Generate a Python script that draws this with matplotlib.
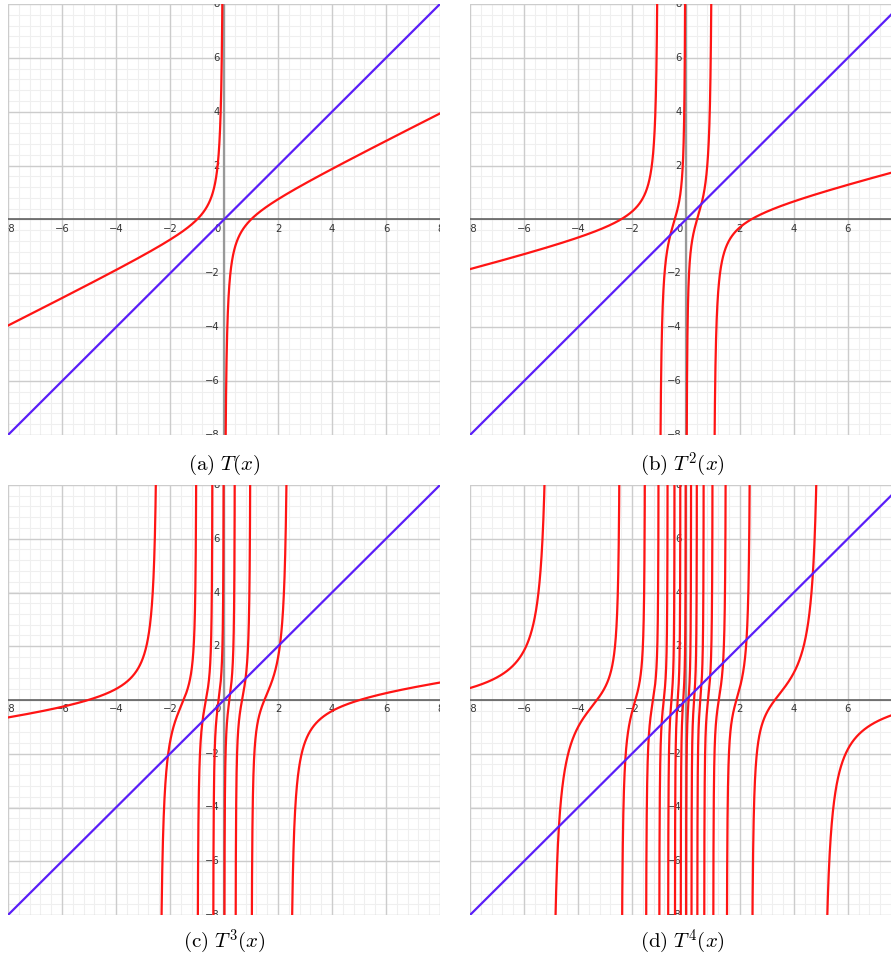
import numpy as np
import matplotlib
matplotlib.use("Agg")
import matplotlib.pyplot as plt

plt.rcParams['mathtext.fontset'] = 'cm'

# ---- data / chart definition ----
iterations = [1, 2, 3, 4]
captions = [r"$\mathrm{(a)}\ T(x)$", r"$\mathrm{(b)}\ T^2(x)$",
            r"$\mathrm{(c)}\ T^3(x)$", r"$\mathrm{(d)}\ T^4(x)$"]
x_limits = [(-8, 8), (-8, 7.6), (-8, 8), (-8, 7.6)]
y_limits = (-8, 8)
major_ticks = [-8, -6, -4, -2, 0, 2, 4, 6, 8]
minor_step = 0.4


def T(x):
    # Newton map for x^2 + 1 = 0
    with np.errstate(divide='ignore', invalid='ignore'):
        return (x * x - 1.0) / (2.0 * x)


def iterate(x, n):
    y = x.copy()
    for _ in range(n):
        y = T(y)
    return y


RED = '#ff1414'
BLUE = '#5a1ef8'

fig = plt.figure(figsize=(8.91, 9.63), dpi=100)
W, H = 891.0, 963.0
boxes = [(8, 4, 440, 435), (470, 4, 891, 435), (8, 485, 440, 915), (470, 485, 891, 915)]
cap_pos = [(224, 465), (682, 465), (224, 942), (682, 942)]

for k, n in enumerate(iterations):
    x0, y0, x1, y1 = boxes[k]
    ax = fig.add_axes([x0 / W, 1 - y1 / H, (x1 - x0) / W, (y1 - y0) / H])
    xl = x_limits[k]
    ax.set_xlim(*xl)
    ax.set_ylim(*y_limits)
    for s in ax.spines.values():
        s.set_visible(False)
    ax.set_xticks([])
    ax.set_yticks([])

    # grid
    minor = np.arange(-8, 8.0001, minor_step)
    for v in minor:
        ax.axvline(v, color='#efefef', lw=0.8, zorder=0)
        ax.axhline(v, color='#efefef', lw=0.8, zorder=0)
    for v in major_ticks:
        ax.axvline(v, color='#cccccc', lw=1.0, zorder=0.5)
        ax.axhline(v, color='#cccccc', lw=1.0, zorder=0.5)
    ax.axhline(0, color='#555555', lw=1.1, zorder=1)
    ax.axvline(0, color='#999999', lw=1.6, zorder=1)

    # tick labels
    fs = 7.2
    for v in major_ticks:
        lab = "\u2212%d" % abs(v) if v < 0 else "%d" % v
        if v == 0:
            ax.text(-0.12, -0.15, "0", fontsize=fs, color='#333333', ha='right', va='top',
                    zorder=2, clip_on=True)
            continue
        if xl[0] <= v <= xl[1]:
            ax.text(v, -0.15, lab, fontsize=fs, color='#333333', ha='center', va='top',
                    zorder=2, clip_on=True)
        ax.text(-0.15, v, lab, fontsize=fs, color='#333333', ha='right', va='center',
                zorder=2, clip_on=True)

    # curves
    x = np.linspace(xl[0], xl[1], 400001)
    y = iterate(x, n)
    y[np.abs(y) > 60] = np.nan
    jump = np.zeros_like(y, dtype=bool)
    jump[1:] = (np.abs(np.diff(y)) > 16)
    y[jump] = np.nan
    ax.plot(x, y, color=RED, lw=1.6, zorder=3)
    ax.plot(x, x, color=BLUE, lw=1.6, zorder=4)

    cx, cy = cap_pos[k]
    fig.text(cx / W, 1 - cy / H, captions[k], fontsize=15, ha='center', va='center')

fig.savefig("out.png", dpi=100)
